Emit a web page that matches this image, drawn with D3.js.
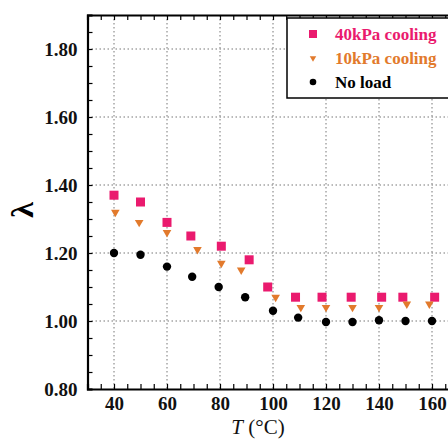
<!DOCTYPE html>
<html>
<head>
<meta charset="utf-8">
<script src="https://d3js.org/d3.v7.min.js"></script>
<style>
  body { margin:0; background:#fff; }
  svg { display:block; }
  .lbl { font-family: "Liberation Serif", "Times New Roman", serif; font-weight: bold; }
</style>
</head>
<body>
<script>
// data
const seriesNames = ["40kPa cooling", "10kPa cooling", "No load"];
const xLoad40 = [40, 50, 60, 69, 80.5, 91, 98, 108.5, 118.5, 129.5, 141, 149, 161];
const yLoad40 = [1.37, 1.35, 1.29, 1.25, 1.22, 1.18, 1.10, 1.07, 1.07, 1.07, 1.07, 1.07, 1.07];
const xLoad10 = [40.5, 49.5, 60, 71.5, 80.5, 88, 101, 110.5, 120, 130, 140, 150.5, 159];
const yLoad10 = [1.32, 1.29, 1.26, 1.21, 1.17, 1.15, 1.07, 1.04, 1.04, 1.04, 1.04, 1.05, 1.05];
const xNoLoad = [40, 50, 60, 69.5, 79.5, 89.5, 100, 109.5, 120, 130, 140, 150, 160];
const yNoLoad = [1.20, 1.195, 1.16, 1.13, 1.10, 1.07, 1.03, 1.01, 0.997, 0.997, 1.002, 1.0, 1.0];
const xTicks = [40, 60, 80, 100, 120, 140, 160];
const yTicks = [0.8, 1.0, 1.2, 1.4, 1.6, 1.8];

const width = 448, height = 439;
const pink = "#ea1a6e", orange = "#e27a2c";

const svg = d3.select("body").append("svg")
  .attr("width", width).attr("height", height);

const x = d3.scaleLinear().domain([30, 170]).range([87.5, 458.5]);
const y = d3.scaleLinear().domain([0.8, 1.9]).range([389, 15]);

const minorX = d3.range(30, 171, 5);
const minorY = d3.range(0.8, 1.901, 0.05);

// grid
const grid = svg.append("g");
grid.selectAll("line.gx").data(xTicks).enter().append("line")
  .attr("x1", d => x(d)).attr("x2", d => x(d))
  .attr("y1", y(1.9)).attr("y2", y(0.8))
  .attr("stroke", "#777").attr("stroke-width", 1).attr("stroke-dasharray", "1.5,2.5");
grid.selectAll("line.gy").data(yTicks.slice(1)).enter().append("line")
  .attr("x1", x(30)).attr("x2", x(170))
  .attr("y1", d => y(d)).attr("y2", d => y(d))
  .attr("stroke", "#777").attr("stroke-width", 1).attr("stroke-dasharray", "1.5,2.5");

// inward minor ticks
function tickAxis(axis, tr) {
  const g = svg.append("g").attr("transform", tr).call(axis);
  g.select(".domain").attr("stroke-width", 2.2);
  g.selectAll(".tick line").attr("stroke-width", 1.2);
  return g;
}
tickAxis(d3.axisBottom(x).tickValues(minorX).tickSize(-5).tickFormat(""), `translate(0,${y(0.8)})`);
tickAxis(d3.axisTop(x).tickValues(minorX).tickSize(-5).tickFormat(""), `translate(0,${y(1.9)})`);
tickAxis(d3.axisLeft(y).tickValues(minorY).tickSize(-5).tickFormat(""), `translate(${x(30)},0)`);
tickAxis(d3.axisRight(y).tickValues(minorY).tickSize(-5).tickFormat(""), `translate(${x(170)},0)`);

// tick labels
const xl = svg.append("g").attr("transform", `translate(0,${y(0.8)})`)
  .call(d3.axisBottom(x).tickValues(xTicks).tickSize(0).tickPadding(8).tickFormat(d3.format("d")));
xl.select(".domain").remove();
xl.selectAll("text").attr("class", "lbl").attr("font-size", 19).attr("fill", "#111");

const yl = svg.append("g").attr("transform", `translate(${x(30)},0)`)
  .call(d3.axisLeft(y).tickValues(yTicks).tickSize(0).tickPadding(10).tickFormat(d3.format(".2f")));
yl.select(".domain").remove();
yl.selectAll("text").attr("class", "lbl").attr("font-size", 19).attr("fill", "#111");

// axis titles
svg.append("text").attr("class", "lbl")
  .attr("transform", "translate(33,210) rotate(-90)")
  .attr("text-anchor", "middle").attr("font-size", 32).text("λ");

const xt = svg.append("text")
  .attr("x", 258).attr("y", 434).attr("text-anchor", "middle")
  .attr("font-family", "Liberation Serif, serif").attr("font-size", 21).attr("fill", "#111");
xt.append("tspan").attr("font-style", "italic").text("T");
xt.append("tspan").text(" (°C)");

// markers
const tri = d3.symbol().type(d3.symbolTriangle);
const toPts = (xs, ys) => xs.map((v, i) => ({x: v, y: ys[i]}));

svg.append("g").selectAll("rect").data(toPts(xLoad40, yLoad40)).enter().append("rect")
  .attr("x", d => x(d.x) - 4.5).attr("y", d => y(d.y) - 4.5)
  .attr("width", 9).attr("height", 9).attr("fill", pink);

svg.append("g").selectAll("path").data(toPts(xLoad10, yLoad10)).enter().append("path")
  .attr("d", tri.size(32))
  .attr("transform", d => `translate(${x(d.x)},${y(d.y)}) rotate(180)`)
  .attr("fill", orange);

svg.append("g").selectAll("circle").data(toPts(xNoLoad, yNoLoad)).enter().append("circle")
  .attr("cx", d => x(d.x)).attr("cy", d => y(d.y)).attr("r", 4.2).attr("fill", "#000");

// legend
const lg = svg.append("g").attr("transform", "translate(287,18)");
lg.append("rect").attr("width", 200).attr("height", 80)
  .attr("fill", "#fff").attr("stroke", "#000").attr("stroke-width", 1.5);
const colors = [pink, orange, "#000"];
seriesNames.forEach((name, i) => {
  const cy = 16 + i * 24;
  if (i === 0) lg.append("rect").attr("x", 22).attr("y", cy - 4).attr("width", 8).attr("height", 8).attr("fill", colors[i]);
  if (i === 1) lg.append("path").attr("d", tri.size(18)).attr("transform", `translate(26,${cy}) rotate(180)`).attr("fill", colors[i]);
  if (i === 2) lg.append("circle").attr("cx", 26).attr("cy", cy).attr("r", 3.3).attr("fill", colors[i]);
  lg.append("text").attr("class", "lbl").attr("x", 48).attr("y", cy + 6)
    .attr("font-size", 17).attr("fill", colors[i]).text(name);
});
</script>
</body>
</html>
